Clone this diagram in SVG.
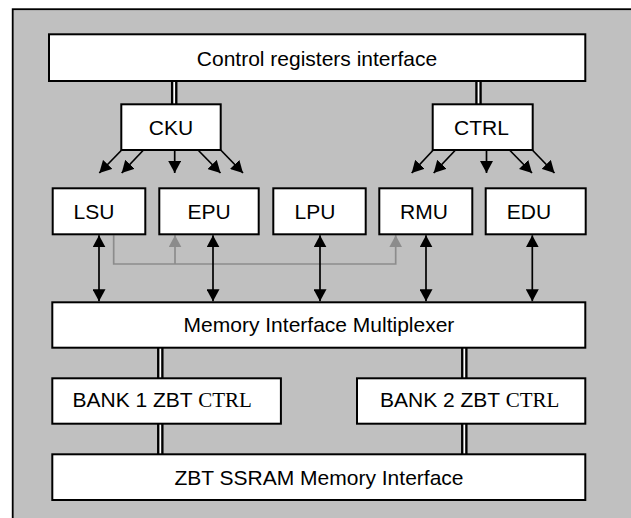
<svg xmlns="http://www.w3.org/2000/svg" width="631" height="518" viewBox="0 0 631 518">
<style>
.box{fill:#fff;stroke:#000;stroke-width:2}
.lbl{font-family:"Liberation Sans",Arial,sans-serif;font-size:21px;fill:#000}
.mid{text-anchor:middle}
.ser{font-family:"Liberation Serif","Times New Roman",serif}
.ar{stroke:#000;stroke-width:1.7;fill:none}
.gr{stroke:#8c8c8c;stroke-width:1.7;fill:none}
.dbo{stroke:#000;stroke-width:6.5}
.dbi{stroke:#fff;stroke-width:1.8}
</style>
<defs>
<marker id="ah" viewBox="0 0 12 13" refX="12" refY="6.5" markerWidth="12" markerHeight="13" markerUnits="userSpaceOnUse" orient="auto-start-reverse">
<path d="M0,0 L12,6.5 L0,13 Z" fill="#000"/>
</marker>
<marker id="ahg" viewBox="0 0 12 13" refX="12" refY="6.5" markerWidth="12" markerHeight="13" markerUnits="userSpaceOnUse" orient="auto-start-reverse">
<path d="M0,0 L12,6.5 L0,13 Z" fill="#8c8c8c"/>
</marker>
</defs>
<rect x="0" y="0" width="631" height="518" fill="#fff"/>
<rect id="panel" x="12.7" y="9.2" width="700" height="600" fill="#c0c0c0" stroke="#000" stroke-width="1.8"/>
<g id="connectors">
<line class="dbo" x1="174.2" y1="81" x2="174.2" y2="104.3"/><line class="dbi" x1="174.2" y1="81" x2="174.2" y2="104.3"/>
<line class="dbo" x1="478.5" y1="81" x2="478.5" y2="104.3"/><line class="dbi" x1="478.5" y1="81" x2="478.5" y2="104.3"/>
<line class="dbo" x1="160.3" y1="347.7" x2="160.3" y2="378.3"/><line class="dbi" x1="160.3" y1="347.7" x2="160.3" y2="378.3"/>
<line class="dbo" x1="464.3" y1="347.7" x2="464.3" y2="378.3"/><line class="dbi" x1="464.3" y1="347.7" x2="464.3" y2="378.3"/>
<line class="dbo" x1="160.3" y1="423.7" x2="160.3" y2="454.3"/><line class="dbi" x1="160.3" y1="423.7" x2="160.3" y2="454.3"/>
<line class="dbo" x1="464.3" y1="423.7" x2="464.3" y2="454.3"/><line class="dbi" x1="464.3" y1="423.7" x2="464.3" y2="454.3"/>
<line class="ar" marker-end="url(#ah)" x1="121.7" y1="150" x2="99.3" y2="173"/>
<line class="ar" marker-end="url(#ah)" x1="143.5" y1="150" x2="121.7" y2="173"/>
<line class="ar" marker-end="url(#ah)" x1="174.7" y1="150" x2="174.7" y2="173"/>
<line class="ar" marker-end="url(#ah)" x1="198" y1="150" x2="220.5" y2="173"/>
<line class="ar" marker-end="url(#ah)" x1="220.7" y1="150" x2="243" y2="173"/>
<line class="ar" marker-end="url(#ah)" x1="433.3" y1="150" x2="411.7" y2="173"/>
<line class="ar" marker-end="url(#ah)" x1="455.5" y1="150" x2="433.7" y2="173"/>
<line class="ar" marker-end="url(#ah)" x1="486.5" y1="150" x2="486.5" y2="173"/>
<line class="ar" marker-end="url(#ah)" x1="509.5" y1="150" x2="532" y2="173"/>
<line class="ar" marker-end="url(#ah)" x1="532.3" y1="150" x2="554.5" y2="173"/>
<path class="gr" marker-end="url(#ahg)" d="M113.7,235.3 V264 H395.7 V235.3"/>
<path class="gr" marker-end="url(#ahg)" d="M175,264 V235.3"/>
<line class="ar" marker-start="url(#ah)" marker-end="url(#ah)" x1="99" y1="235.3" x2="99" y2="301.3"/>
<line class="ar" marker-start="url(#ah)" marker-end="url(#ah)" x1="213" y1="235.3" x2="213" y2="301.3"/>
<line class="ar" marker-start="url(#ah)" marker-end="url(#ah)" x1="320" y1="235.3" x2="320" y2="301.3"/>
<line class="ar" marker-start="url(#ah)" marker-end="url(#ah)" x1="426" y1="235.3" x2="426" y2="301.3"/>
<line class="ar" marker-start="url(#ah)" marker-end="url(#ah)" x1="532.3" y1="235.3" x2="532.3" y2="301.3"/>
</g>
<g id="control-registers"><rect class="box" x="49" y="34.3" width="536.3" height="46.7"/><text class="lbl mid" x="317" y="65.5">Control registers interface</text></g>
<g id="cku"><rect class="box" x="121.3" y="104.3" width="99.4" height="45.7"/><text class="lbl mid" x="171" y="135">CKU</text></g>
<g id="ctrl"><rect class="box" x="432.7" y="104.3" width="100" height="45.7"/><text class="lbl mid" x="481.5" y="135">CTRL</text></g>
<g id="lsu"><rect class="box" x="52.7" y="188.3" width="92.6" height="46"/><text class="lbl mid" x="94" y="219">LSU</text></g>
<g id="epu"><rect class="box" x="159.3" y="188.3" width="99.4" height="46"/><text class="lbl mid" x="209" y="219">EPU</text></g>
<g id="lpu"><rect class="box" x="273.3" y="188.3" width="92.4" height="46"/><text class="lbl mid" x="315" y="219">LPU</text></g>
<g id="rmu"><rect class="box" x="379.3" y="188.3" width="93" height="46"/><text class="lbl mid" x="424" y="219">RMU</text></g>
<g id="edu"><rect class="box" x="485.7" y="188.3" width="100" height="46"/><text class="lbl mid" x="529" y="219">EDU</text></g>
<g id="mux"><rect class="box" x="52.3" y="302.3" width="533" height="45.4"/><text class="lbl mid" x="319" y="332">Memory Interface Multiplexer</text></g>
<g id="bank1"><rect class="box" x="52.3" y="378.3" width="228.6" height="45.4"/><text class="lbl" x="72.5" y="407">BANK 1 ZBT <tspan class="ser">CTRL</tspan></text></g>
<g id="bank2"><rect class="box" x="357" y="378.3" width="228.3" height="45.4"/><text class="lbl" x="380" y="407">BANK 2 ZBT <tspan class="ser">CTRL</tspan></text></g>
<g id="zbt"><rect class="box" x="52.3" y="454.3" width="533" height="45.7"/><text class="lbl mid" x="319" y="485">ZBT SSRAM Memory Interface</text></g>
</svg>
